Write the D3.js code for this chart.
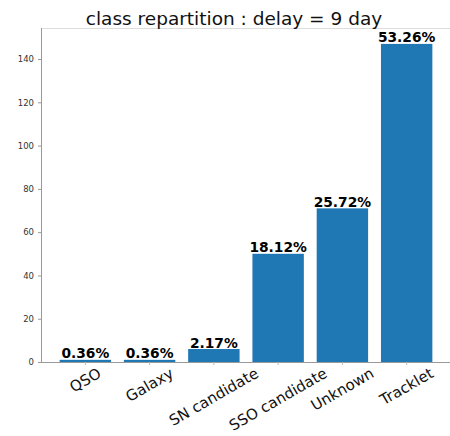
<!DOCTYPE html>
<html><head><meta charset="utf-8">
<script src="https://cdn.jsdelivr.net/npm/d3@7"></script>
<style>body{margin:0;background:#fff}svg{display:block}</style>
</head><body>
<script>
const categories = ["QSO","Galaxy","SN candidate","SSO candidate","Unknown","Tracklet"];
const counts = [1,1,6,50,71,147];
const percentLabels = ["0.36%","0.36%","2.17%","18.12%","25.72%","53.26%"];
const yTicks = [0,20,40,60,80,100,120,140];
const title = "class repartition : delay = 9 day";

const W = 450, H = 436;
const m = {left:41, right:451, top:28, bottom:362};
const svg = d3.select("body").append("svg").attr("width",W).attr("height",H)
  .style("font-family","'DejaVu Sans', sans-serif");

const x = d3.scaleLinear().domain([-0.69, 5.69]).range([m.left, m.right]);
const y = d3.scaleLinear().domain([0, d3.max(counts)*1.05]).range([m.bottom, m.top]);
const bw = x(0.4) - x(-0.4);

// spines
svg.append("line").attr("x1",m.left).attr("x2",m.right).attr("y1",m.top+0.5).attr("y2",m.top+0.5).attr("stroke","#dddddd");
svg.append("line").attr("x1",m.left+0.5).attr("x2",m.left+0.5).attr("y1",m.top).attr("y2",m.bottom).attr("stroke","#999999");

// bars
svg.selectAll("rect.bar").data(counts).join("rect").attr("class","bar")
  .attr("x",(d,i)=>x(i)-bw/2).attr("width",bw)
  .attr("y",d=>y(d)).attr("height",d=>m.bottom-y(d))
  .attr("fill","#1f77b4");

// y axis
const yAxis = d3.axisLeft(y).tickValues(yTicks).tickSize(3).tickPadding(4);
const gy = svg.append("g").attr("transform",`translate(${m.left},0)`).call(yAxis);
gy.select(".domain").remove();
gy.selectAll("line").attr("stroke","#999");
gy.selectAll("text").attr("font-size","8.5px").attr("fill","#333").style("font-family","'DejaVu Sans', sans-serif");

// x axis
const gx = svg.append("g").attr("transform",`translate(0,${m.bottom})`);
gx.append("line").attr("x1",m.left).attr("x2",m.right).attr("y1",0.5).attr("y2",0.5).attr("stroke","#999");
categories.forEach((c,i)=>{
  gx.append("line").attr("x1",x(i)).attr("x2",x(i)).attr("y1",0).attr("y2",3).attr("stroke","#bbb");
});
// rotated labels, centered (matplotlib-like: rotated bbox centered on tick, top at pad)
const labelSize = 15;
const rad = Math.PI/6;
categories.forEach((c,i)=>{
  const t = gx.append("text").text(c).attr("font-size",labelSize+"px").attr("fill","#111")
    .attr("text-anchor","middle").attr("dominant-baseline","central");
  const wlen = t.node().getComputedTextLength();
  const hgt = labelSize*0.92;
  const hh = wlen/2*Math.sin(rad) + hgt/2*Math.cos(rad);
  t.attr("transform",`translate(${x(i)},${4+hh}) rotate(-30)`);
});

// percentage labels
svg.selectAll("text.pct").data(counts).join("text").attr("class","pct")
  .attr("x",(d,i)=>x(i)).attr("y",d=>y(d)-1.5)
  .attr("text-anchor","middle").attr("font-size","13.8px").attr("font-weight","bold").attr("fill","#000")
  .text((d,i)=>percentLabels[i]);

// title
svg.append("text").attr("x",234).attr("y",25).attr("text-anchor","middle")
  .attr("font-size","18.5px").attr("fill","#111").text(title);
</script>
</body></html>
